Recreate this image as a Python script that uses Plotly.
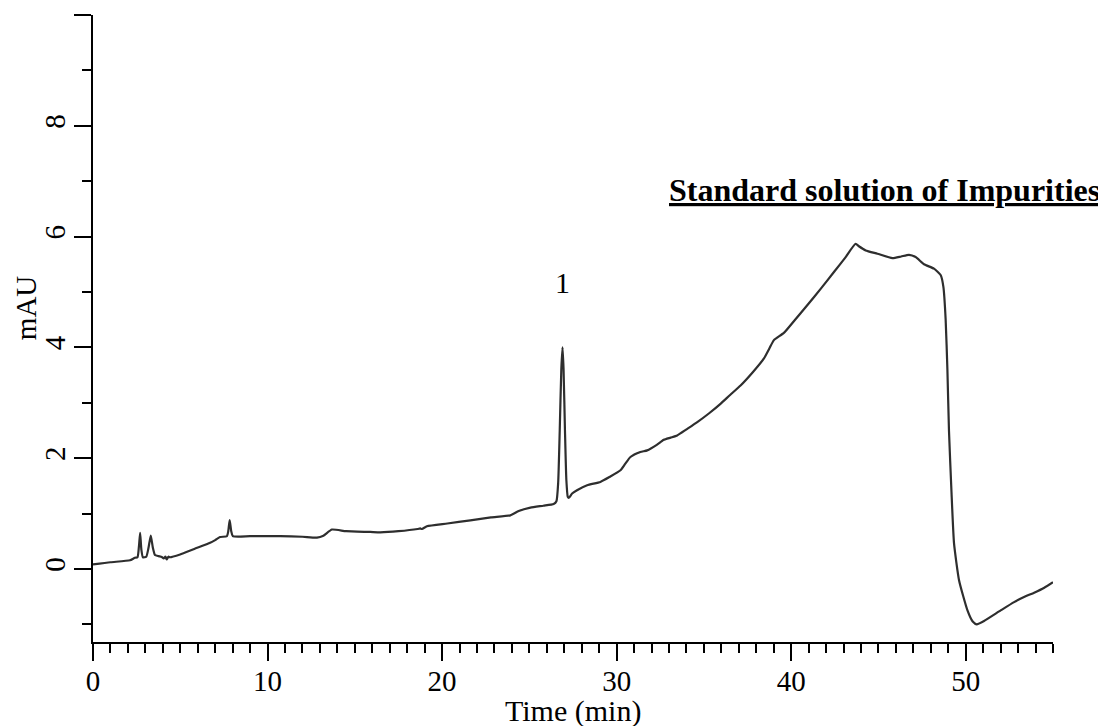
import plotly.graph_objects as go

# Chromatogram trace (time in min, signal in mAU)
TIME = [0.0, 1.0, 2.12, 2.40, 2.55, 2.63, 2.70, 2.77, 2.86, 3.05, 3.18, 3.31, 3.43, 3.55,
        3.75, 3.94, 4.05, 4.15, 4.22, 4.32, 4.41, 4.99, 5.8, 6.71, 7.0, 7.28, 7.67, 7.75,
        7.83, 7.92, 8.01, 9.0, 10.72, 12.0, 12.83, 13.2, 13.69, 14.5, 15.88, 16.46, 17.5,
        18.6, 18.75, 18.85, 19.13, 20.3, 21.62, 22.8, 23.91, 24.39, 25.06, 25.8, 26.39,
        26.55, 26.65, 26.74, 26.83, 26.90, 26.96, 27.04, 27.12, 27.20, 27.26, 27.45, 27.73,
        28.31, 29.07, 29.6, 30.22, 30.5, 30.79, 31.36, 31.75, 32.3, 32.70, 33.09, 33.47,
        34.0, 34.62, 35.3, 35.95, 36.5, 37.10, 37.8, 38.44, 38.75, 39.01, 39.58, 40.2,
        40.92, 41.7, 42.45, 43.1, 43.69, 43.9, 44.27, 44.94, 45.80, 46.3, 46.75, 47.13,
        47.61, 48.18, 48.57, 48.72, 48.85, 48.95, 49.04, 49.18, 49.33, 49.62, 50.10, 50.40,
        50.63, 51.05, 52.0, 52.77, 53.4, 53.92, 54.5, 55.0]
SIGNAL = [0.08, 0.12, 0.155, 0.20, 0.21, 0.40, 0.65, 0.35, 0.21, 0.22, 0.38, 0.60, 0.38, 0.25,
          0.23, 0.215, 0.19, 0.22, 0.17, 0.22, 0.21, 0.26, 0.36, 0.47, 0.52, 0.575, 0.59, 0.68,
          0.88, 0.68, 0.59, 0.59, 0.59, 0.58, 0.565, 0.60, 0.71, 0.68, 0.667, 0.66, 0.68,
          0.72, 0.73, 0.72, 0.77, 0.82, 0.877, 0.93, 0.967, 1.045, 1.106, 1.14, 1.17,
          1.22, 1.55, 2.5, 3.6, 4.0, 3.6, 2.5, 1.6, 1.30, 1.28, 1.36, 1.42,
          1.51, 1.57, 1.66, 1.78, 1.90, 2.02, 2.11, 2.14, 2.24, 2.33, 2.37, 2.41,
          2.52, 2.65, 2.81, 2.98, 3.14, 3.31, 3.55, 3.80, 3.98, 4.13, 4.26, 4.49,
          4.76, 5.06, 5.36, 5.62, 5.87, 5.82, 5.75, 5.69, 5.61, 5.64, 5.67, 5.63,
          5.50, 5.42, 5.30, 5.09, 4.50, 3.60, 2.50, 1.42, 0.46, -0.21, -0.75, -0.95,
          -1.0, -0.94, -0.75, -0.60, -0.50, -0.43, -0.34, -0.24]

PEAK_LABEL = "1"
PEAK_TIME = 26.9
PEAK_LABEL_Y = 5.17

X_TICKS = [0, 10, 20, 30, 40, 50]
Y_TICKS = [0, 2, 4, 6, 8, 10]
Y_TICK_TEXT = ["0", "2", "4", "6", "8", ""]

TITLE_TEXT = "Standard solution of Impurities"
X_TITLE = "Time (min)"
Y_TITLE = "mAU"

FONT = "Liberation Serif, Times New Roman, serif"

fig = go.Figure()
fig.add_trace(go.Scatter(
    x=TIME, y=SIGNAL, mode="lines",
    line=dict(color="#2e2e2e", width=2.2, shape="spline", smoothing=0.5),
    showlegend=False, hoverinfo="skip",
))

fig.update_layout(
    width=1106, height=726,
    margin=dict(l=85, r=61, t=7, b=92),
    paper_bgcolor="white", plot_bgcolor="white",
    font=dict(family=FONT, color="black", size=28),
    xaxis=dict(
        range=[0, 55], showgrid=False, zeroline=False,
        showline=True, linecolor="black", linewidth=2,
        ticks="outside", ticklen=17, tickwidth=2, tickcolor="black",
        tickmode="array", tickvals=X_TICKS,
        tickfont=dict(family=FONT, size=29),
        ticklabelstandoff=-5,
        minor=dict(dtick=1, ticks="outside", ticklen=9, tickwidth=2, tickcolor="black"),
    ),
    yaxis=dict(
        range=[-1.32, 10], showgrid=False, zeroline=False,
        showline=True, linecolor="black", linewidth=2,
        ticks="outside", ticklen=17, tickwidth=2, tickcolor="black",
        tickmode="array", tickvals=Y_TICKS, ticktext=Y_TICK_TEXT,
        tickangle=-90,
        tickfont=dict(family=FONT, size=29),
        ticklabelstandoff=-3,
        minor=dict(dtick=1, ticks="outside", ticklen=9, tickwidth=2, tickcolor="black"),
    ),
    annotations=[
        dict(text=X_TITLE, xref="paper", yref="paper", x=0.5, y=-0.1100,
             xanchor="center", yanchor="middle", showarrow=False,
             font=dict(family=FONT, size=30)),
        dict(text=Y_TITLE, xref="paper", yref="paper", x=-0.0698, y=0.534,
             xanchor="center", yanchor="middle", showarrow=False, textangle=-90,
             font=dict(family=FONT, size=29)),
        dict(text=PEAK_LABEL, xref="x", yref="y", x=PEAK_TIME, y=PEAK_LABEL_Y,
             xanchor="center", yanchor="middle", showarrow=False,
             font=dict(family=FONT, size=30)),
        dict(text="<b>" + TITLE_TEXT + "</b>", xref="paper", yref="paper",
             x=1.051, y=0.689, xanchor="right", yanchor="bottom", showarrow=False,
             font=dict(family=FONT, size=32, lineposition="under")),
    ],
)

fig.write_html("out.html")
